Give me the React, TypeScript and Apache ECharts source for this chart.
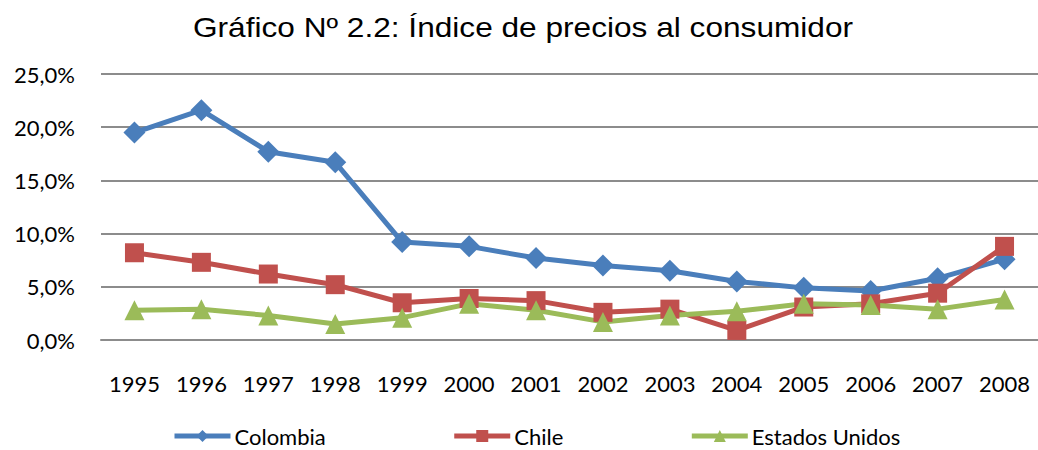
import React, { useEffect, useRef } from "react";
import * as echarts from "echarts";

const years = ["1995","1996","1997","1998","1999","2000","2001","2002","2003","2004","2005","2006","2007","2008"];
const colombia = [19.5, 21.6, 17.7, 16.7, 9.2, 8.8, 7.7, 7.0, 6.5, 5.5, 4.9, 4.6, 5.8, 7.6];
const chile = [8.2, 7.3, 6.2, 5.2, 3.5, 3.9, 3.7, 2.6, 2.9, 0.9, 3.1, 3.4, 4.4, 8.8];
const usa = [2.8, 2.9, 2.3, 1.5, 2.1, 3.4, 2.8, 1.7, 2.3, 2.7, 3.4, 3.3, 2.9, 3.8];
const seriesNames = ["Colombia", "Chile", "Estados Unidos"];
const titleText = "Gráfico Nº 2.2: Índice de precios al consumidor";

export default function App() {
  const ref = useRef<HTMLDivElement>(null);
  useEffect(() => {
    document.body.style.margin = "0";
    const chart = echarts.init(ref.current!, null, { renderer: "svg" });
    const font = "Lato, 'Open Sans', sans-serif";
    const mk = (name: string, data: number[], color: string, symbol: string, size: number) => ({
      name,
      type: "line",
      data,
      symbol,
      symbolSize: size,
      lineStyle: { color, width: 5 },
      itemStyle: { color },
    });
    chart.setOption({
      animation: false,
      backgroundColor: "#ffffff",
      graphic: [
        {
          type: "text",
          x: 523,
          y: 27,
          scaleX: 1.13,
          style: {
            text: titleText,
            fontFamily: "'Liberation Sans', Arial, sans-serif",
            fontSize: 28,
            fill: "#000",
            align: "center",
            verticalAlign: "middle",
          },
        },
      ],
      grid: { left: 101, right: -2, top: 74, bottom: 110, containLabel: false },
      xAxis: {
        type: "category",
        data: years,
        boundaryGap: true,
        axisLine: { lineStyle: { color: "#8c8c8c", width: 2 } },
        axisTick: { show: false },
        axisLabel: { color: "#000", fontFamily: font, fontSize: 22, margin: 32 },
      },
      yAxis: {
        type: "value",
        min: 0,
        max: 25,
        interval: 5,
        axisLine: { show: false },
        axisTick: { show: false },
        splitLine: { lineStyle: { color: "#8c8c8c", width: 2 } },
        axisLabel: {
          color: "#000",
          fontFamily: font,
          fontSize: 22,
          margin: 26,
          formatter: (v: number) => v.toFixed(1).replace(".", ",") + "%",
        },
      },
      legend: {
        data: seriesNames,
        top: 425,
        left: 172,
        padding: 0,
        itemGap: 126,
        itemWidth: 56,
        itemHeight: 15,
        lineStyle: { width: 5 },
        textStyle: { fontFamily: font, fontSize: 22, color: "#000", padding: [0, 0, 0, -1] },
      },
      series: [
        mk(seriesNames[0], colombia, "#4A7EBB", "diamond", 22),
        mk(seriesNames[1], chile, "#C0504D", "rect", 19),
        mk(seriesNames[2], usa, "#9BBB59", "triangle", 20),
      ],
    });
    return () => chart.dispose();
  }, []);
  return <div ref={ref} style={{ width: 1038, height: 450 }} />;
}
